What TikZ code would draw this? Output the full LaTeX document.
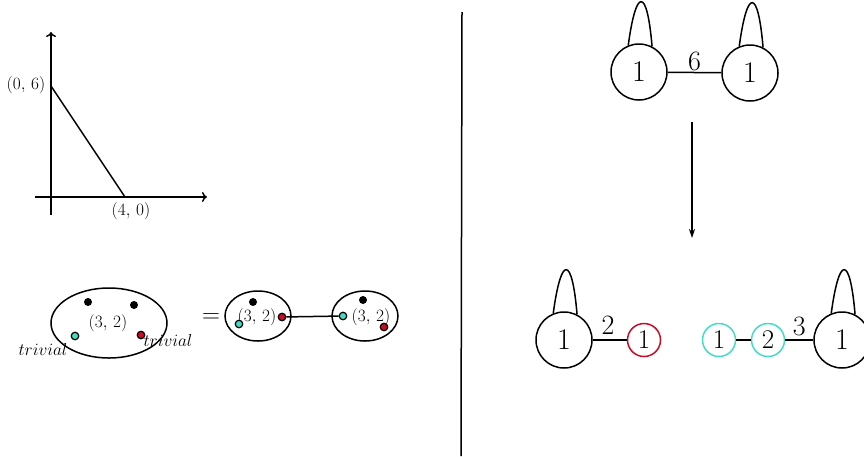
\documentclass[tikz,border=0pt]{standalone}
\usetikzlibrary{arrows.meta}
\definecolor{myred}{RGB}{205,10,40}
\definecolor{mycyan}{RGB}{70,220,195}
\begin{document}
\begin{tikzpicture}[x=1pt,y=-1pt,line width=1.5pt,
  lbl/.style={font=\fontsize{19}{21}\selectfont,inner sep=1pt},
  big/.style={circle,draw,minimum size=56pt,inner sep=0pt,font=\fontsize{30}{32}\selectfont},
  sml/.style={circle,draw,line width=1.5pt,minimum size=33pt,inner sep=0pt,font=\fontsize{27}{29}\selectfont},
  elbl/.style={font=\fontsize{28}{30}\selectfont,inner sep=0.5pt,anchor=south},
  bdot/.style={circle,fill=black,minimum size=8pt,inner sep=0pt},
  cdot/.style={circle,draw,line width=1.2pt,fill=mycyan,minimum size=7.5pt,inner sep=0pt},
  rdot/.style={circle,draw,line width=1.2pt,fill=myred,minimum size=7.5pt,inner sep=0pt}]
\useasboundingbox (0,0) rectangle (864,456);

% ---- axes ----
\coordinate (yb) at (51,215);
\coordinate (yt) at (51,32);
\coordinate (xl) at (35,197);
\coordinate (xr) at (207,197);
\coordinate (p06) at (51,86);
\coordinate (p40) at (125,197);
\draw[-{To[length=5pt,width=10pt]}] (yb) -- (yt);
\draw[-{To[length=5pt,width=10pt]}] (xl) -- (xr);
\draw (p06) -- (p40);
\node[lbl] (l06) at (26,85) {$(0,\,6)$};
\node[lbl] (l40) at (131,211) {$(4,\,0)$};

% ---- ellipses ----
\draw (109,323) ellipse [x radius=58, y radius=35];
\node[bdot] (d1) at (88,302) {};
\node[bdot] (d2) at (134,305) {};
\node[cdot] (c1) at (75,336) {};
\node[rdot] (r1) at (141,335) {};
\node[lbl] (t1) at (108,323) {$(3,\,2)$};
\node[lbl] (tv1) at (43,349) {$trivial$};
\node[lbl] (tv2) at (168,340) {$trivial$};
\node[font=\fontsize{28}{30}\selectfont,inner sep=0pt] (eq) at (211,318) {$=$};

\draw (258,316) ellipse [x radius=33, y radius=25];
\node[bdot] (d3) at (253,302) {};
\node[lbl] (t2) at (257,317) {$(3,\,2)$};
\node[cdot] (c2) at (239,324) {};
\node[rdot] (r2) at (282,317) {};

\draw (365,316) ellipse [x radius=33, y radius=25];
\node[bdot] (d4) at (363,300) {};
\node[lbl] (t3) at (371,317) {$(3,\,2)$};
\node[cdot] (c3) at (343,316) {};
\node[rdot] (r3) at (384,327) {};
\draw (r2) -- (c3);

% ---- divider ----
\coordinate (vt) at (462,12);
\coordinate (vb) at (461,456);
\draw (vt) -- (vb);

% ---- top graph ----
\node[big] (A) at (639,72) {1};
\node[big] (B) at (750,73) {1};
\draw (A) -- node[elbl,pos=0.5] {6} (B);
\draw (A.112) .. controls +(8,-59) and +(-5,-59) .. (A.63);
\draw (B.112) .. controls +(8,-59) and +(-5,-59) .. (B.63);

% ---- arrow ----
\coordinate (at) at (692,122);
\coordinate (ab) at (692,238);
\draw[-{Stealth[length=9pt,width=6pt]}] (at) -- (ab);

% ---- bottom graphs ----
\node[big] (C) at (564,340) {1};
\node[sml,draw=myred] (D) at (644,340) {1};
\draw (C) -- node[elbl,pos=0.45,yshift=4pt] {2} (D);
\draw (C.112) .. controls +(8,-59) and +(-5,-59) .. (C.63);

\node[sml,draw=mycyan] (E) at (719,340) {1};
\node[sml,draw=mycyan] (F) at (768,340) {2};
\node[big] (G) at (842,340) {1};
\draw (E) -- (F);
\draw (F) -- node[elbl,pos=0.5,yshift=3pt] {3} (G);
\draw (G.112) .. controls +(8,-59) and +(-5,-59) .. (G.63);
\end{tikzpicture}
\end{document}
